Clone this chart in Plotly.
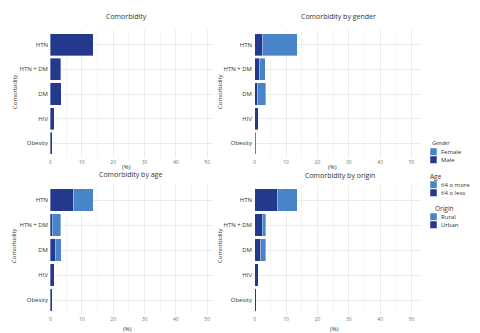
import plotly.graph_objects as go

# ---- data ----
categories = ["HTN", "HTN + DM", "DM", "HIV", "Obesity"]

total_pct = [13.6, 3.3, 3.4, 1.2, 0.5]

gender_male = [2.5, 1.7, 1.0, 1.1, 0.0]
gender_female = [11.1, 1.7, 2.5, 0.0, 0.5]

age_64_or_less = [7.4, 0.5, 1.6, 1.2, 0.5]
age_64_or_more = [6.2, 2.8, 1.8, 0.0, 0.0]

origin_urban = [7.2, 2.5, 2.0, 1.1, 0.5]
origin_rural = [6.4, 1.0, 1.5, 0.0, 0.0]

x_ticks = [0, 10, 20, 30, 40, 50]

DARK = "#24398C"
LIGHT = "#4884C7"
W, H = 480, 333
FONT = "Open Sans"


def px_x(v):
    return v / W


def px_y(v):
    return 1 - v / H


fig = go.Figure()

panels = {
    "tl": ("x", "y"),
    "tr": ("x2", "y2"),
    "bl": ("x3", "y3"),
    "br": ("x4", "y4"),
}


def add_bar(vals, color, panel, name):
    xa, ya = panels[panel]
    fig.add_trace(go.Bar(
        x=vals, y=categories, orientation="h", name=name,
        marker=dict(color=color, line=dict(color="rgba(255,255,255,0.6)", width=0.6)),
        xaxis=xa, yaxis=ya, showlegend=False,
    ))


add_bar(total_pct, DARK, "tl", "Total")
add_bar(gender_male, DARK, "tr", "Male")
add_bar(gender_female, LIGHT, "tr", "Female")
add_bar(age_64_or_less, DARK, "bl", "64 o less")
add_bar(age_64_or_more, LIGHT, "bl", "64 o more")
add_bar(origin_urban, DARK, "br", "Urban")
add_bar(origin_rural, LIGHT, "br", "Rural")

left_dom = [px_x(50), px_x(213)]
right_dom = [px_x(254), px_x(420)]
top_dom = [px_y(158), px_y(30)]
bot_dom = [px_y(315), px_y(185)]

xcommon = dict(
    tickvals=x_ticks, ticks="", showline=False, zeroline=False,
    showgrid=True, gridcolor="#EBEBEB", gridwidth=0.8,
    minor=dict(dtick=5, tick0=0, showgrid=True, gridcolor="#F5F5F5", gridwidth=0.5),
    tickfont=dict(size=5, color="#777777", family=FONT),
    fixedrange=True,
)
ycommon = dict(
    categoryorder="array", categoryarray=categories, range=[4.6, -0.6],
    ticks="", showline=False, zeroline=False,
    showgrid=True, gridcolor="#EBEBEB", gridwidth=0.8,
    tickfont=dict(size=6, color="#333333", family=FONT),
    ticklabelstandoff=1,
)

fig.update_layout(
    width=W, height=H, margin=dict(l=0, r=0, t=0, b=0),
    paper_bgcolor="white", plot_bgcolor="white",
    barmode="stack", bargap=0.1,
    font=dict(family=FONT, color="#333333"),
    xaxis=dict(domain=left_dom, range=[-0.15, 51.85], anchor="y", **xcommon),
    yaxis=dict(domain=top_dom, anchor="x", **ycommon),
    xaxis2=dict(domain=right_dom, range=[-0.2, 52.7], anchor="y2", **xcommon),
    yaxis2=dict(domain=top_dom, anchor="x2", **ycommon),
    xaxis3=dict(domain=left_dom, range=[-0.15, 51.85], anchor="y3", **xcommon),
    yaxis3=dict(domain=bot_dom, anchor="x3", **ycommon),
    xaxis4=dict(domain=right_dom, range=[-0.2, 52.7], anchor="y4", **xcommon),
    yaxis4=dict(domain=bot_dom, anchor="x4", **ycommon),
    showlegend=False,
)

annotations = []


def text(x, y, s, size=7, angle=0, xanchor="center", color="#333333", italic=False):
    annotations.append(dict(
        x=px_x(x), y=px_y(y), xref="paper", yref="paper", text=s,
        showarrow=False, xanchor=xanchor, yanchor="middle", textangle=angle,
        font=dict(size=size, color=color, family=FONT,
                  style="italic" if italic else "normal"),
    ))


# panel titles
text(126, 17, "Comorbidity")
text(338, 17, "Comorbidity by gender")
text(130, 174, "Comorbidity by age")
text(340, 175, "Comorbidity by origin")
# x-axis titles
text(126, 167, "(%)", size=6)
text(332, 167, "(%)", size=6)
text(127, 329, "(%)", size=6)
text(334, 329, "(%)", size=6)
# y-axis titles
text(15, 92, "Comorbidity", size=6, angle=-90)
text(220, 92, "Comorbidity", size=6, angle=-90)
text(14, 246, "Comorbidity", size=6, angle=-90)
text(220, 246, "Comorbidity", size=6, angle=-90)

# ---- legends (drawn as swatches + labels) ----
legend_groups = [
    ("Gender", ["Female", "Male"], [LIGHT, DARK], 143, True, 430),
    ("Age", ["64 o more", "64 o less"], [LIGHT, DARK], 176, False, 428),
    ("Origin", ["Rural", "Urban"], [LIGHT, DARK], 208, False, 433),
]
shapes = []
for title, labels, colors, ty, italic, tx in legend_groups:
    text(tx, ty, title, size=5.5 if italic else 6.5, xanchor="left", italic=italic)
    for i, (lab, col) in enumerate(zip(labels, colors)):
        top = ty + 5 + i * 8
        shapes.append(dict(
            type="rect", xref="paper", yref="paper",
            x0=px_x(430), x1=px_x(437), y0=px_y(top + 7.5), y1=px_y(top),
            fillcolor=col, line=dict(color="white", width=0.5),
        ))
        text(438.5, top + 4, lab, size=6, xanchor="left", color="#333333")

fig.update_layout(annotations=annotations, shapes=shapes)

fig.write_html("out.html")
